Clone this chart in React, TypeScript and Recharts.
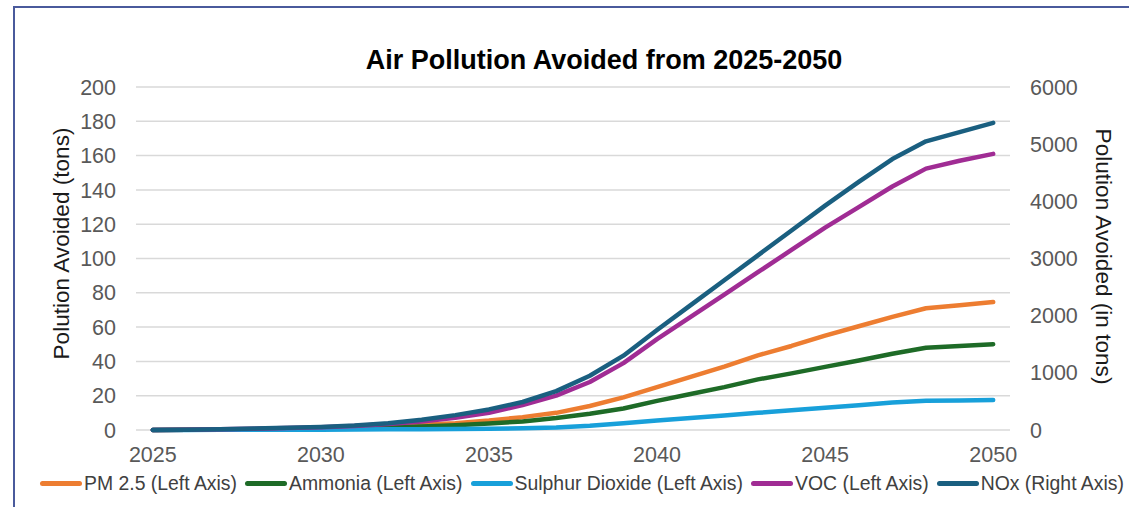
import React from "react";
import { LineChart, Line, XAxis, YAxis, CartesianGrid } from "recharts";

const years = [2025, 2026, 2027, 2028, 2029, 2030, 2031, 2032, 2033, 2034, 2035, 2036, 2037, 2038, 2039, 2040, 2041, 2042, 2043, 2044, 2045, 2046, 2047, 2048, 2049, 2050];
const pm25 = [0, 0.1, 0.2, 0.4, 0.6, 1, 1.5, 2, 3, 4, 5.5, 7.5, 10, 14, 19, 25, 31, 37, 43.5, 49, 55, 60.5, 66, 71, 72.8, 74.6];
const ammonia = [0, 0.1, 0.2, 0.3, 0.5, 0.8, 1, 1.4, 2, 2.8, 3.8, 5, 7, 9.5, 12.5, 17, 21, 25, 29.5, 33, 36.8, 40.5, 44.5, 48, 49, 50];
const sulphur = [0, 0, 0.1, 0.1, 0.2, 0.2, 0.3, 0.4, 0.5, 0.6, 0.8, 1, 1.5, 2.5, 4, 5.5, 7, 8.5, 10, 11.5, 13, 14.5, 16, 17, 17.2, 17.5];
const voc = [0, 0.2, 0.4, 0.7, 1.1, 1.6, 2.4, 3.5, 5, 7.2, 10, 14.5, 20, 28, 39, 53, 66, 79, 92, 105, 118, 130, 142, 152.4, 157, 161];
const nox = [0, 6, 15, 25, 38, 54, 80, 120, 180, 260, 360, 490, 680, 950, 1300, 1750, 2185, 2620, 3055, 3490, 3925, 4340, 4740, 5050, 5210, 5373];

const xTicks = [2025, 2030, 2035, 2040, 2045, 2050];
const leftTicks = [0, 20, 40, 60, 80, 100, 120, 140, 160, 180, 200];
const rightTicks = [0, 1000, 2000, 3000, 4000, 5000, 6000];

const title = "Air Pollution Avoided from 2025-2050";
const leftTitle = "Polution Avoided (tons)";
const rightTitle = "Polution Avoided (in tons)";

const series = [
  { key: "pm25", name: "PM 2.5 (Left Axis)", color: "#ED7D31", axis: "left" },
  { key: "ammonia", name: "Ammonia (Left Axis)", color: "#1E6B27", axis: "left" },
  { key: "sulphur", name: "Sulphur Dioxide (Left Axis)", color: "#18A0DA", axis: "left" },
  { key: "voc", name: "VOC (Left Axis)", color: "#A02C94", axis: "left" },
  { key: "nox", name: "NOx (Right Axis)", color: "#1A5F80", axis: "right" },
];

const data = years.map((year, i) => ({
  year,
  pm25: pm25[i],
  ammonia: ammonia[i],
  sulphur: sulphur[i],
  voc: voc[i],
  nox: nox[i],
}));

const FONT = "'Liberation Sans', Arial, sans-serif";

const LeftLabel = (props: any) => {
  const vb = props.viewBox || {};
  const cx = vb.x + 61;
  const cy = vb.y + vb.height / 2 - 15;
  return (
    <text x={cx} y={cy} transform={`rotate(-90, ${cx}, ${cy})`} textAnchor="middle" dominantBaseline="central" fontSize={22.6} fill="#1a1a1a" fontFamily={FONT}>
      {leftTitle}
    </text>
  );
};

const RightLabel = (props: any) => {
  const vb = props.viewBox || {};
  const cx = vb.x + 93;
  const cy = vb.y + vb.height / 2 - 2;
  return (
    <text x={cx} y={cy} transform={`rotate(90, ${cx}, ${cy})`} textAnchor="middle" dominantBaseline="central" fontSize={22.6} fill="#1a1a1a" fontFamily={FONT}>
      {rightTitle}
    </text>
  );
};

const tickStyle = { fontSize: 21.5, fill: "#595959", fontFamily: FONT };

export default function App() {
  return (
    <div style={{ position: "absolute", left: 0, top: 0, width: 1129, height: 507, background: "#fff", overflow: "hidden", fontFamily: FONT }}>
      <div style={{ position: "absolute", left: 13, top: 6, width: 1200, height: 600, borderTop: "2px solid #4a5a9c", borderLeft: "2px solid #4a5a9c" }} />
      <div style={{ position: "absolute", left: 0, width: 1208, top: 47, textAlign: "center", fontSize: 27, lineHeight: 1, fontWeight: "bold", color: "#000" }}>
        {title}
      </div>
      <div style={{ position: "absolute", left: 0, top: 0 }}>
        <LineChart width={1129} height={507} data={data} margin={{ top: 87, right: 0, left: 0, bottom: 37 }}>
          <CartesianGrid yAxisId="left" vertical={false} stroke="#d9d9d9" strokeWidth={1.5} />
          <XAxis
            dataKey="year"
            type="number"
            domain={[2024.5, 2050.5]}
            ticks={xTicks}
            height={40}
            axisLine={false}
            tickLine={false}
            tickSize={0}
            tickMargin={17}
            tick={tickStyle}
          />
          <YAxis
            yAxisId="left"
            orientation="left"
            width={136}
            domain={[0, 200]}
            ticks={leftTicks}
            axisLine={false}
            tickLine={false}
            tickSize={0}
            tickMargin={20}
            tick={tickStyle}
            label={<LeftLabel />}
          />
          <YAxis
            yAxisId="right"
            orientation="right"
            width={119}
            domain={[0, 6000]}
            ticks={rightTicks}
            axisLine={false}
            tickLine={false}
            tickSize={0}
            tickMargin={20}
            tick={tickStyle}
            label={<RightLabel />}
          />
          {series.map((s) => (
            <Line
              key={s.key}
              yAxisId={s.axis}
              dataKey={s.key}
              name={s.name}
              type="linear"
              stroke={s.color}
              strokeWidth={4.5}
              strokeLinecap="round"
              strokeLinejoin="round"
              dot={false}
              activeDot={false}
              isAnimationActive={false}
            />
          ))}
        </LineChart>
      </div>
      <div style={{ position: "absolute", left: 40, top: 472, display: "flex", alignItems: "center", fontSize: 19.4, color: "#404040", whiteSpace: "nowrap" }}>
        {series.map((s) => (
          <div key={s.key} style={{ display: "flex", alignItems: "center", marginRight: 8 }}>
            <div style={{ width: 42, height: 5, borderRadius: 3, background: s.color, marginRight: 2 }} />
            <span>{s.name}</span>
          </div>
        ))}
      </div>
    </div>
  );
}
